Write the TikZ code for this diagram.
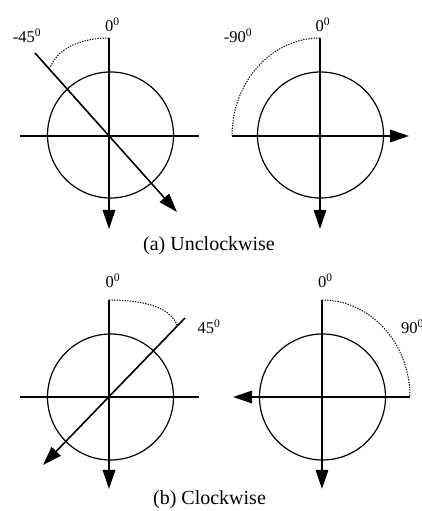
\documentclass[tikz,border=0pt]{standalone}
\usepackage{fontspec}
\setmainfont{Liberation Serif}
\usetikzlibrary{arrows.meta}
\begin{document}
\begin{tikzpicture}[x=1pt,y=1pt,
  axis/.style={line width=1.6pt},
  arrowline/.style={line width=1.6pt,-{Triangle[length=19pt,width=12.5pt]}},
  ring/.style={line width=1.2pt},
  dotarc/.style={line width=1pt,dash pattern=on 1.3pt off 1.3pt},
  lbl/.style={font=\fontsize{16.5}{18}\selectfont,inner sep=0pt,anchor=base},
  captext/.style={font=\fontsize{20}{22}\selectfont,inner sep=0pt,anchor=base}]
\useasboundingbox (0,0) rectangle (422,511);

% ---------- (a) left: -45 ----------
\coordinate (A1o) at (109,375);
\coordinate (A1t) at (109,473);
\coordinate (A1b) at (109,282);
\coordinate (A1l) at (20,375);
\coordinate (A1r) at (199,375);
\coordinate (A1d) at (35,458);
\coordinate (A1e) at (177,299);
\coordinate (A1a) at (50,443);
\draw[ring] (110.5,376) circle[radius=63];
\draw[axis] (A1l) -- (A1r);
\draw[arrowline] (A1t) -- (A1b);
\draw[arrowline] (A1d) -- (A1e);
\draw[dotarc] (A1t) .. controls (80,473) and (57,462) .. (A1a);
\node[lbl] (A1z) at (112.5,479) {0\textsuperscript{0}};
\node[lbl] (A1n) at (27,468) {-45\textsuperscript{0}};

% ---------- (a) right: -90 ----------
\coordinate (A2t) at (320,473);
\coordinate (A2b) at (320,282);
\coordinate (A2l) at (232,375);
\coordinate (A2r) at (409,375);
\draw[ring] (320.5,376) circle[radius=63];
\draw[arrowline] (A2l) -- (A2r);
\draw[arrowline] (A2t) -- (A2b);
\draw[dotarc] (A2t) arc[start angle=90,end angle=180,x radius=88,y radius=98];
\node[lbl] (A2z) at (323,479) {0\textsuperscript{0}};
\node[lbl] (A2n) at (238,468) {-90\textsuperscript{0}};

\node[captext] (capA) at (209,260) {(a) Unclockwise};

% ---------- (b) left: 45 ----------
\coordinate (B1t) at (109,211);
\coordinate (B1b) at (109,22);
\coordinate (B1l) at (20,114);
\coordinate (B1r) at (199,114);
\coordinate (B1d) at (185,193);
\coordinate (B1e) at (43,46);
\coordinate (B1a) at (177,186);
\draw[ring] (110.5,114) circle[radius=63];
\draw[axis] (B1l) -- (B1r);
\draw[arrowline] (B1t) -- (B1b);
\draw[arrowline] (B1d) -- (B1e);
\draw[dotarc] (B1t) .. controls (140,211) and (170,205) .. (B1a);
\node[lbl] (B1z) at (113,223) {0\textsuperscript{0}};
\node[lbl] (B1n) at (209,177) {45\textsuperscript{0}};

% ---------- (b) right: 90 ----------
\coordinate (B2t) at (322,211);
\coordinate (B2b) at (322,22);
\coordinate (B2l) at (410,114);
\coordinate (B2r) at (233,114);
\draw[ring] (322.5,114) circle[radius=63];
\draw[arrowline] (B2l) -- (B2r);
\draw[arrowline] (B2t) -- (B2b);
\draw[dotarc] (B2t) arc[start angle=90,end angle=0,x radius=88,y radius=97];
\node[lbl] (B2z) at (325.5,223) {0\textsuperscript{0}};
\node[lbl,anchor=base west] (B2n) at (401,177) {90\textsuperscript{0}};

\node[captext] (capB) at (209.5,6) {(b) Clockwise};
\end{tikzpicture}
\end{document}
